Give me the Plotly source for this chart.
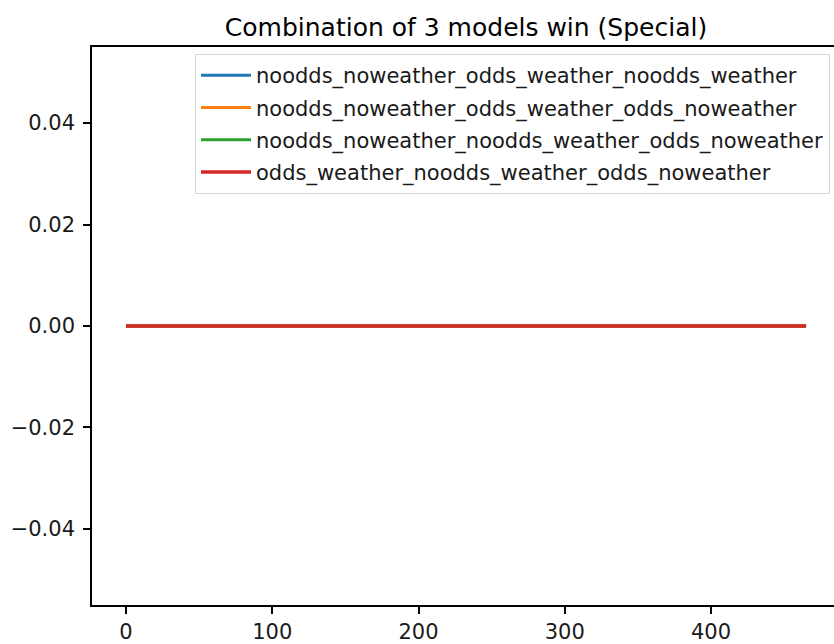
import plotly.graph_objects as go

# Number of games evaluated and the cumulative wins for each three-model combination
n_games = 466
game_index = list(range(n_games))

combo_names = [
    "noodds_noweather_odds_weather_noodds_weather",
    "noodds_noweather_odds_weather_odds_noweather",
    "noodds_noweather_noodds_weather_odds_noweather",
    "odds_weather_noodds_weather_odds_noweather",
]
wins_combo_1 = [0] * n_games
wins_combo_2 = [0] * n_games
wins_combo_3 = [0] * n_games
wins_combo_4 = [0] * n_games
combo_wins = [wins_combo_1, wins_combo_2, wins_combo_3, wins_combo_4]

line_colors = ["#1f77b4", "#ff7f0e", "#2ca02c", "#d62728"]
# the last line sits on top of the others, slightly wider so no fringe shows
line_widths = [3, 3, 3, 3.6]

x_tick_vals = [0, 100, 200, 300, 400]
x_tick_text = ["0", "100", "200", "300", "400"]
y_tick_vals = [-0.04, -0.02, 0.0, 0.02, 0.04]
y_tick_text = ["\u22120.04", "\u22120.02", "0.00", "0.02", "0.04"]

FONT = "DejaVu Sans"
W, H = 834, 644
M_L, M_R, M_T, M_B = 92, 0, 47, 39
plot_w = W - M_L - M_R
plot_h = H - M_T - M_B

fig = go.Figure()
for i, (name, wins) in enumerate(zip(combo_names, combo_wins)):
    fig.add_trace(go.Scatter(
        x=game_index, y=wins, mode="lines", name=name,
        legendgroup=f"g{i}",
        line=dict(color=line_colors[i], width=line_widths[i]),
    ))

fig.update_layout(
    width=W, height=H,
    margin=dict(l=M_L, r=M_R, t=M_T, b=M_B, autoexpand=False),
    paper_bgcolor="white", plot_bgcolor="white",
    font=dict(family=FONT, size=21, color="black"),
    showlegend=True,
    title=dict(
        text="Combination of 3 models win (Special)",
        font=dict(family=FONT, size=25, color="black"),
        xref="container", yref="container",
        x=466 / W, xanchor="center",
        y=1 - 27 / H, yanchor="middle",
    ),
    legend=dict(
        xref="paper", yref="paper",
        x=(830 - M_L) / plot_w, xanchor="right",
        y=1 - (54 - M_T) / plot_h, yanchor="top",
        bgcolor="white", bordercolor="#d6d6d6", borderwidth=1,
        font=dict(family=FONT, size=21, color="#1a1a1a"),
        traceorder="grouped", tracegroupgap=2,
        itemwidth=50,
    ),
    xaxis=dict(
        range=[-23.25, 484.1],
        tickmode="array", tickvals=x_tick_vals, ticktext=x_tick_text,
        ticks="outside", ticklen=7, tickwidth=1.5, tickcolor="black",
        showline=True, linecolor="black", linewidth=1.6, mirror=True,
        showgrid=False, zeroline=False, tickangle=0,
        tickfont=dict(family=FONT, size=21, color="#1a1a1a"),
    ),
    yaxis=dict(
        range=[-0.055, 0.055],
        tickmode="array", tickvals=y_tick_vals, ticktext=y_tick_text,
        ticks="outside", ticklen=7, tickwidth=1.5, tickcolor="black",
        showline=True, linecolor="black", linewidth=1.6, mirror=False,
        showgrid=False, zeroline=False,
        tickfont=dict(family=FONT, size=21, color="#1a1a1a"),
        ticklabelstandoff=4,
    ),
)

fig.write_html("out.html")
